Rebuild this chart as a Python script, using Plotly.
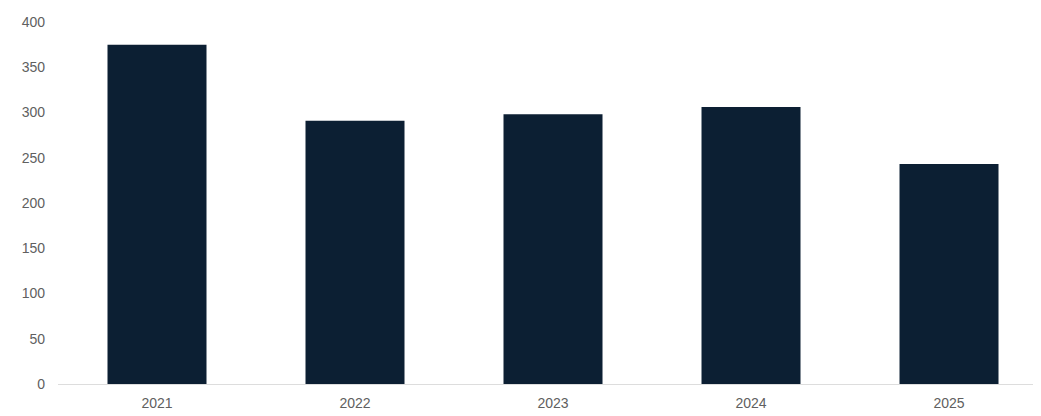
import plotly.graph_objects as go

years = ["2021", "2022", "2023", "2024", "2025"]
values = [375, 291, 298, 306, 243]
y_ticks = [0, 50, 100, 150, 200, 250, 300, 350, 400]

fig = go.Figure(go.Bar(x=years, y=values, marker_color="#0c1f33", marker_line_width=0, width=0.5))

fig.update_layout(
    width=1041, height=416,
    margin=dict(l=50, r=0, t=14, b=40),
    paper_bgcolor="white", plot_bgcolor="white",
    font=dict(family="Liberation Sans, Arial, sans-serif", size=14, color="#606060"),
    showlegend=False,
)
fig.update_xaxes(type="category", range=[-0.5, 4.505], showline=True, linecolor="#dddddd",
                 linewidth=1, showgrid=False, ticks="", ticklabelstandoff=6)
fig.update_yaxes(range=[0, 400], tickvals=y_ticks, showgrid=False, zeroline=False,
                 showline=False, ticks="", ticklabelstandoff=12)

fig.write_html("out.html")
